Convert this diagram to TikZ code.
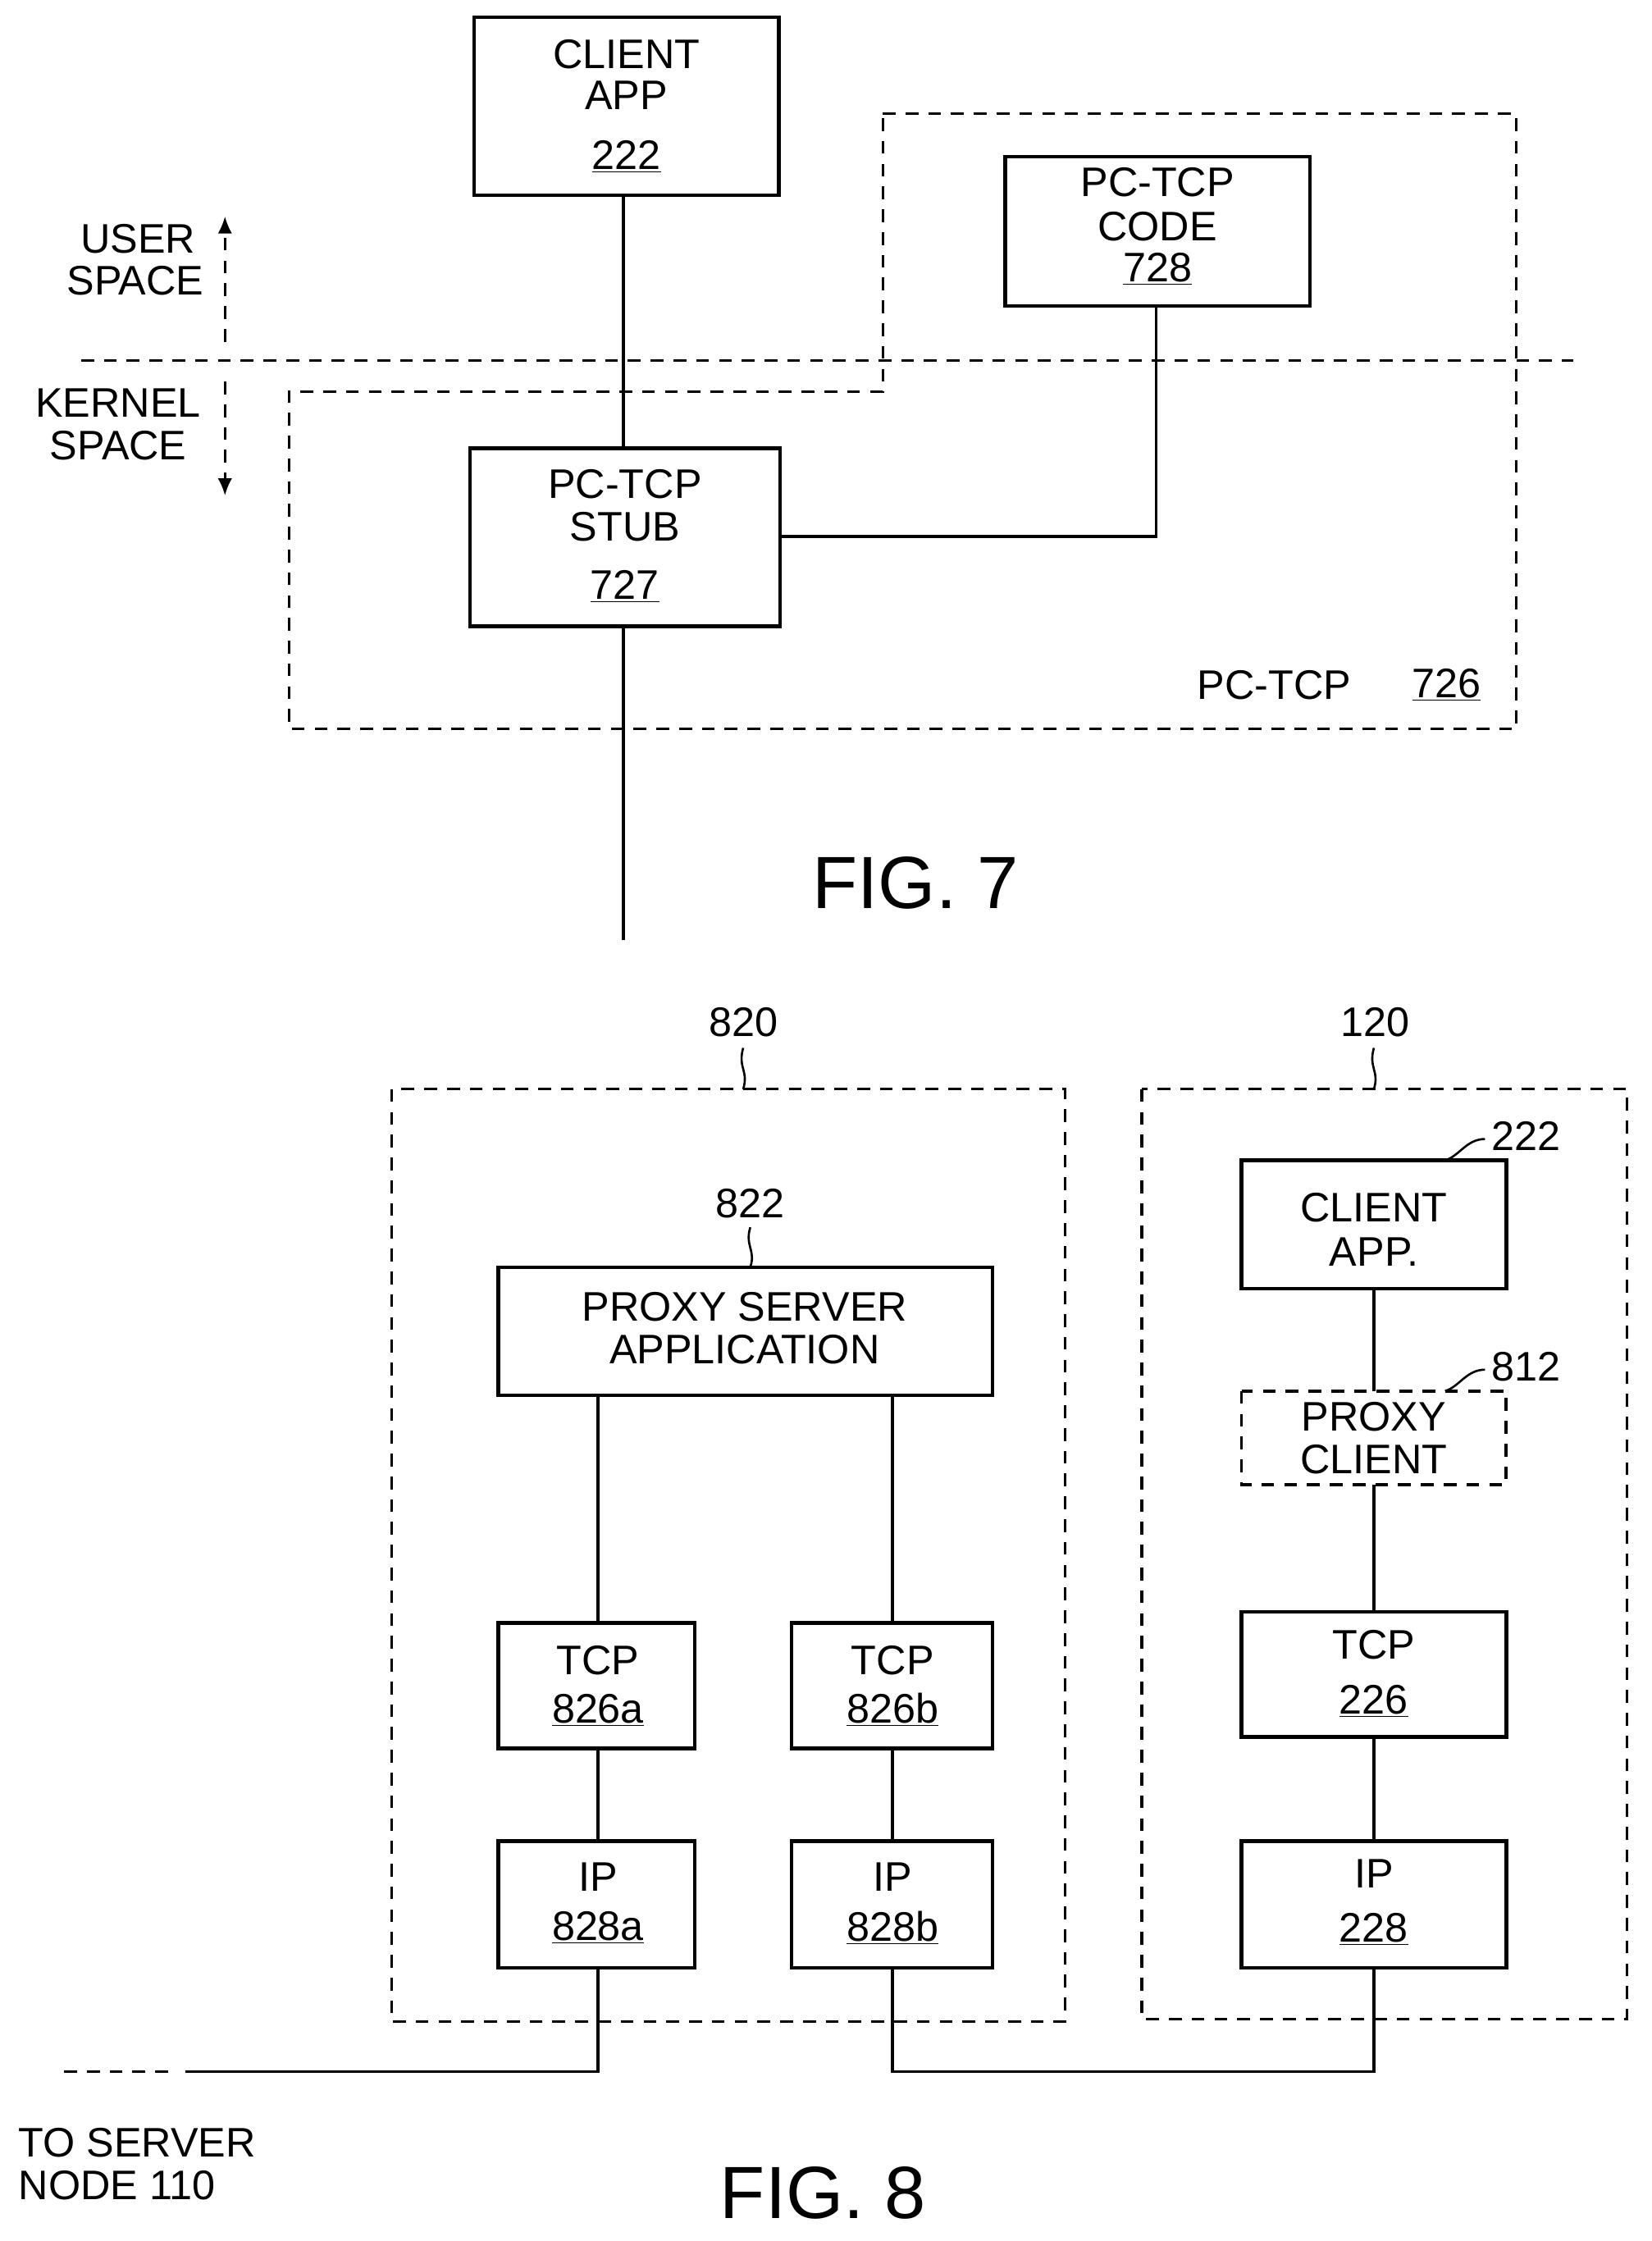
\documentclass[tikz,border=0pt]{standalone}
\usepackage{fontspec}
\setmainfont{Liberation Sans}
\usetikzlibrary{arrows.meta}
\begin{document}
\begin{tikzpicture}[x=1pt,y=-1pt,line width=2.2pt,
 box/.style={draw,thick box},
 thick box/.style={line width=2.6pt},
 dsh/.style={draw,line width=1.8pt,dash pattern=on 9pt off 7pt},
 t/.style={font=\fontsize{29}{31}\selectfont,inner sep=0pt},
 big/.style={font=\fontsize{52}{54}\selectfont,inner sep=0pt}]
\useasboundingbox (0,0) rectangle (1160,1574);
% FIG 7
\draw[box] (333,12) rectangle (547,137);
\node[t] (ca) at (440,38) {CLIENT};
\node[t] at (440,67) {APP};
\node[t] at (440,110) {\underline{222}};
\draw[dsh] (620,80)--(1065,80)--(1065,512)--(203,512)--(203,275)--(620,275)--cycle;
\draw[box] (706,110) rectangle (920,215);
\node[t] at (813,128) {PC-TCP};
\node[t] at (813,159) {CODE};
\node[t] at (813,189) {\underline{728}};
\draw[dsh] (57,253)--(1105,253);
\node[t] at (97,168) {USER};
\node[t] at (95,197) {SPACE};
\node[t] at (83,283) {KERNEL};
\node[t] at (83,313) {SPACE};
\draw[dsh,line width=1.5pt,-{Latex[length=12pt,width=10pt]}] (158,240)--(158,152);
\draw[dsh,line width=1.5pt,-{Latex[length=12pt,width=10pt]}] (158,268)--(158,348);
\draw[box] (330,315) rectangle (548,440);
\node[t] at (439,340) {PC-TCP};
\node[t] at (439,370) {STUB};
\node[t] at (439,412) {\underline{727}};
\draw (438,137)--(438,315);
\draw (548,377)--(812,377)--(812,215);
\draw (438,440)--(438,660);
\node[t] at (895,481) {PC-TCP};
\node[t] at (1016,481) {\underline{726}};
\node[big] at (643,620) {FIG. 7};
% FIG 8
\draw[dsh] (275,765) rectangle (748,1420);
\draw[dsh] (802,765) rectangle (1143,1418);
\node[t] at (522,718) {820};
\draw[line width=1.5pt] (522,736) .. controls (518,750) and (526,752) .. (522,765);
\node[t] at (966,718) {120};
\draw[line width=1.5pt] (965,736) .. controls (961,750) and (969,752) .. (965,765);
\draw[box] (350,890) rectangle (697,980);
\node[t] at (523,918) {PROXY SERVER};
\node[t] at (523,948) {APPLICATION};
\node[t] at (527,845) {822};
\draw[line width=1.5pt] (527,862) .. controls (523,875) and (531,878) .. (527,890);
\draw[box] (350,1140) rectangle (488,1228);
\node[t] at (420,1166) {TCP};
\node[t] at (420,1201) {\underline{826a}};
\draw[box] (350,1293) rectangle (488,1382);
\node[t] at (420,1318) {IP};
\node[t] at (420,1354) {\underline{828a}};
\draw[box] (556,1140) rectangle (697,1228);
\node[t] at (627,1166) {TCP};
\node[t] at (627,1201) {\underline{826b}};
\draw[box] (556,1293) rectangle (697,1382);
\node[t] at (627,1318) {IP};
\node[t] at (627,1354) {\underline{828b}};
\draw (420,980)--(420,1140) (420,1228)--(420,1293);
\draw (627,980)--(627,1140) (627,1228)--(627,1293);
\draw[box] (872,815) rectangle (1058,905);
\node[t] at (965,848) {CLIENT};
\node[t] at (965,879) {APP.};
\node[t] at (1072,798) {222};
\draw[line width=1.5pt] (1043,800) .. controls (1030,800) and (1025,812) .. (1015,815);
\draw[dsh,line width=2.2pt] (872,977) rectangle (1058,1043);
\node[t] at (965,995) {PROXY};
\node[t] at (965,1025) {CLIENT};
\node[t] at (1072,960) {812};
\draw[line width=1.5pt] (1043,962) .. controls (1030,962) and (1025,974) .. (1015,977);
\draw[box] (872,1132) rectangle (1058,1220);
\node[t] at (965,1155) {TCP};
\node[t] at (965,1195) {\underline{226}};
\draw[box] (872,1293) rectangle (1058,1382);
\node[t] at (965,1316) {IP};
\node[t] at (965,1355) {\underline{228}};
\draw (965,905)--(965,977) (965,1043)--(965,1132) (965,1220)--(965,1293);
\draw (420,1382)--(420,1455)--(130,1455);
\draw[dsh] (45,1455)--(122,1455);
\draw (627,1382)--(627,1455)--(965,1455)--(965,1382);
\node[t,anchor=west] at (12,1505) {TO SERVER};
\node[t,anchor=west] at (12,1535) {NODE 110};
\node[big] at (578,1540) {FIG. 8};
\end{tikzpicture}
\end{document}
